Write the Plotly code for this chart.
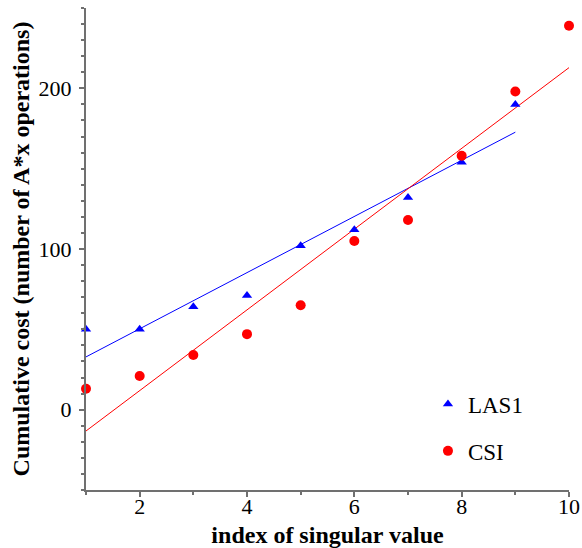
import numpy as np
import plotly.graph_objects as go

# Cumulative cost per singular value index
las1_index = [1, 2, 3, 4, 5, 6, 7, 8, 9]
las1_cost = [50, 50, 64, 71, 102, 112, 132, 154, 190]

csi_index = [1, 2, 3, 4, 5, 6, 7, 8, 9, 10]
csi_cost = [13, 21, 34, 47, 65, 105, 118, 158, 198, 239]

x_tick_vals = [2, 4, 6, 8, 10]
y_tick_vals = [0, 100, 200]

BLUE = "#0000ff"
RED = "#ff0000"
AXIS = "#707070"
SERIF = "Liberation Serif, Times New Roman, serif"


def linear_fit(x, y):
    slope, intercept = np.polyfit(x, y, 1)
    xs = np.array([min(x), max(x)], dtype=float)
    return xs, slope * xs + intercept


fig = go.Figure()

# least-squares trend lines
lx, ly = linear_fit(las1_index, las1_cost)
fig.add_trace(go.Scatter(x=lx, y=ly, mode="lines", line=dict(color=BLUE, width=1),
                         showlegend=False, hoverinfo="skip"))
cx, cy = linear_fit(csi_index, csi_cost)
fig.add_trace(go.Scatter(x=cx, y=cy, mode="lines", line=dict(color=RED, width=1),
                         showlegend=False, hoverinfo="skip"))

# measured points
fig.add_trace(go.Scatter(x=las1_index, y=las1_cost, mode="markers", name="LAS1",
                         legendgroup="a",
                         marker=dict(symbol="triangle-up", size=9, color=BLUE),
                         cliponaxis=False))
fig.add_trace(go.Scatter(x=csi_index, y=csi_cost, mode="markers", name="CSI",
                         legendgroup="b",
                         marker=dict(symbol="circle", size=10, color=RED),
                         cliponaxis=False))

fig.update_layout(
    width=582, height=548,
    margin=dict(l=86, r=13, t=8, b=58),
    paper_bgcolor="white", plot_bgcolor="white",
    font=dict(family=SERIF, size=22, color="black"),
    legend=dict(x=0.708, y=0.223, xanchor="left", yanchor="top",
                traceorder="grouped", tracegroupgap=14,
                font=dict(family=SERIF, size=23, color="black"),
                bgcolor="rgba(0,0,0,0)"),
    xaxis=dict(
        range=[1, 10], tickvals=x_tick_vals, ticks="outside", ticklen=5,
        tickwidth=1.5, tickcolor=AXIS, showline=True, linecolor=AXIS, linewidth=2,
        showgrid=False, zeroline=False, automargin=False, ticklabelstandoff=-9,
        tickfont=dict(family=SERIF, size=22),
        minor=dict(tickvals=[1, 3, 5, 7, 9], ticks="outside", ticklen=3,
                   tickcolor=AXIS, tickwidth=1.5),
        title=dict(text="<b>index of singular value</b>", standoff=11,
                   font=dict(family=SERIF, size=24)),
    ),
    yaxis=dict(
        range=[-50, 250], tickvals=y_tick_vals, ticks="outside", ticklen=5,
        tickwidth=1.5, tickcolor=AXIS, showline=True, linecolor=AXIS, linewidth=2,
        showgrid=False, zeroline=False, automargin=False, ticklabelstandoff=3,
        tickfont=dict(family=SERIF, size=22),
        minor=dict(dtick=10, ticks="outside", ticklen=3, tickcolor=AXIS,
                   tickwidth=1.5),
        title=dict(text="<b>Cumulative cost (number of A*x operations)</b>",
                   standoff=2, font=dict(family=SERIF, size=24)),
    ),
)

fig.write_html("out.html")
